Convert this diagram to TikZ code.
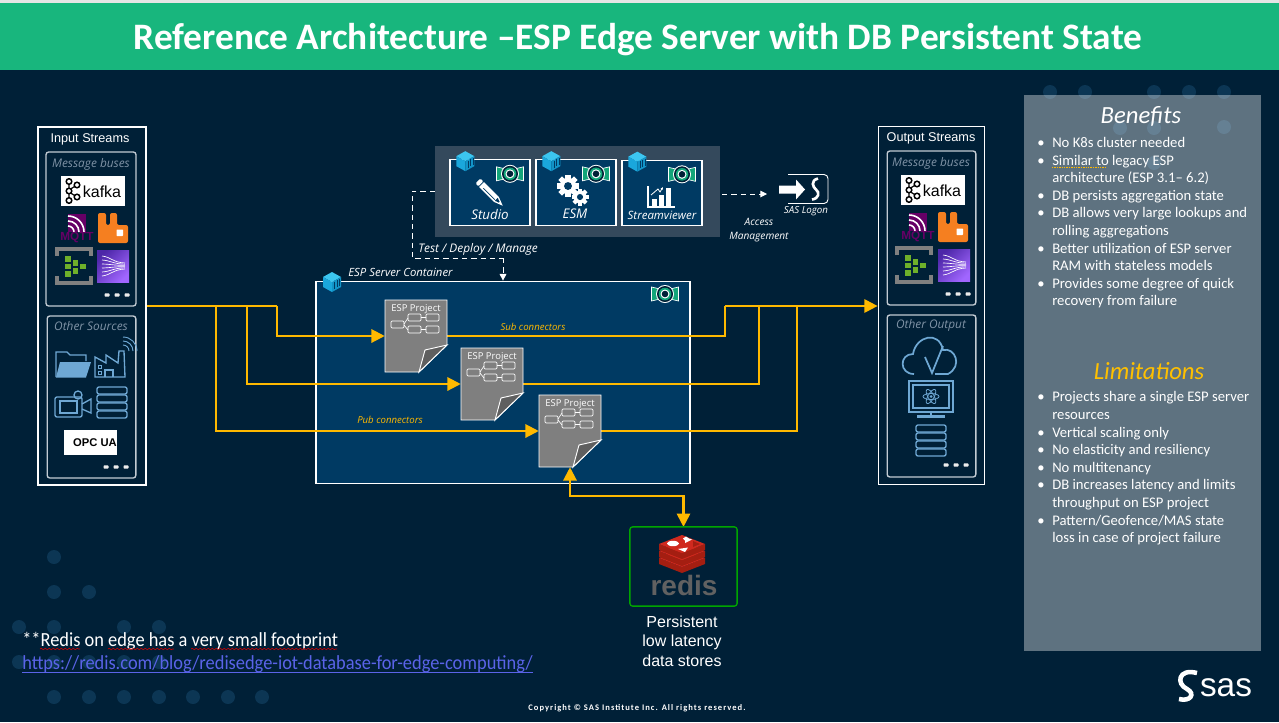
\documentclass[tikz,border=0pt]{standalone}
\usepackage{fontspec}
\setmainfont{Carlito}
\newfontfamily\arialf{Liberation Sans}
\newfontfamily\openf{Open Sans}
\newfontfamily\notef[FakeStretch=0.92]{Carlito}
\newfontfamily\copyf[LetterSpace=12]{Carlito}
\usetikzlibrary{arrows.meta,positioning,decorations.pathmorphing}
\definecolor{pagebg}{HTML}{002037}
\definecolor{dotc}{HTML}{0C3654}
\definecolor{band}{HTML}{18B67D}
\definecolor{navy}{HTML}{003A63}
\definecolor{toolbg}{HTML}{34495C}
\definecolor{flowc}{HTML}{FFB900}
\definecolor{iconb}{HTML}{6FA8D4}
\definecolor{capt}{HTML}{8093A6}
\definecolor{edgec}{HTML}{C3CBD3}
\definecolor{teal}{HTML}{12A579}
\definecolor{mqttc}{HTML}{660066}
\definecolor{linkc}{HTML}{5A63E8}
\definecolor{cubeA}{HTML}{3CC6F0}
\definecolor{cubeB}{HTML}{1AA7DC}
\definecolor{cubeC}{HTML}{1294C8}
\definecolor{kinA}{HTML}{4D27A8}
\definecolor{kinB}{HTML}{A166FF}
\definecolor{hubg}{HTML}{6FB02A}
\definecolor{rabbitc}{HTML}{F57F20}
\definecolor{redisA}{HTML}{D0291E}
\definecolor{redisB}{HTML}{A41E11}
\definecolor{sheetc}{HTML}{7F7F7F}
\definecolor{foldc}{HTML}{5F5F5F}
\newcommand\pt[2]{\fontsize{#1}{#2}\selectfont}
\newcommand\bitem[1]{\makebox[11.25pt][l]{\textbullet}#1}
\newcommand\bcont[1]{\hspace*{11.25pt}#1}
\tikzset{
	txt/.style = {text=white, inner sep=0},
	capfont/.style = {txt, font=\openf\itshape\pt{8.9}{10}, text=capt},
	tagfont/.style = {txt, font=\openf\itshape\pt{8.5}{12}},
	toolfont/.style = {txt, font=\openf\itshape\pt{10}{12}},
	yelfont/.style = {txt, font=\openf\itshape\pt{7.2}{9}, text=flowc},
	outer/.style = {draw=white, line width=.8pt, inner sep=0},
	inner/.style = {draw=edgec, line width=1pt, rounded corners=2pt, inner sep=0},
	toolbox/.style = {draw=white, line width=.8pt, fill=navy, inner sep=0, minimum width=60pt, minimum height=49pt},
	logobox/.style = {fill=white, inner sep=0},
	flow/.style = {draw=flowc, line width=1.6pt},
	flowarrow/.style = {flow, -{Triangle[length=10pt,width=10pt]}},
	flowboth/.style = {flow, {Triangle[length=10pt,width=10pt]}-{Triangle[length=10pt,width=10pt]}},
	dashline/.style = {draw=white, line width=.7pt, dash pattern=on 4pt off 3pt},
	wavy/.style = {draw=red!80!black, line width=.5pt, decorate, decoration={snake, segment length=3pt, amplitude=.5pt}},
	outline/.style = {draw=iconb, line width=1pt},
	cubeicon/.pic = {
		\fill[cubeA] (0,-10) -- (9,-5) -- (0,0) -- (-9,-5) -- cycle;
		\fill[cubeB] (-9,-5) -- (0,0) -- (0,10) -- (-9,5) -- cycle;
		\fill[cubeC] (9,-5) -- (0,0) -- (0,10) -- (9,5) -- cycle;
		\foreach \i in {2.5,5,7.5} \draw[navy, line width=.2pt] (\i,{-\i*.55+1}) -- (\i,{8-\i*.55});
	},
	espicon/.pic = {
		\draw[white, fill=teal, line width=.5pt] (-13.5,-7) -- (-5,-5) -- (-5,5) -- (-13.5,7) -- cycle;
		\draw[white, fill=teal, line width=.5pt] (13.5,-7) -- (5,-5) -- (5,5) -- (13.5,7) -- cycle;
		\fill[white] (0,0) circle (9);
		\fill[pagebg] (0,0) circle (8);
		\fill[teal] (0,0) circle (6.3);
		\fill[white] (0,0) circle (4.5);
		\fill[pagebg] (0,0) circle (3.3);
	},
	pencilicon/.pic = {
		\begin{scope}[rotate=-45]
			\fill[white, rounded corners=.8pt] (-17,-3.5) rectangle (-13,3.5);
			\fill[white] (-12,-3.5) -- (9,-3.5) -- (18,0) -- (9,3.5) -- (-12,3.5) -- cycle;
			\fill[navy] (-8,1) rectangle (8,1.7);
			\fill[navy] (13,-.5) -- (13,.5) -- (9,2) -- (9,-2) -- cycle;
		\end{scope}
	},
	gearicon/.pic = {
		\foreach \a in {0,45,...,315} \fill[white, rotate=\a] (-2.4,5) rectangle (2.4,10);
		\fill[white] (0,0) circle (7.5);
		\fill[navy] (0,0) circle (3.6);
	},
	charticon/.pic = {
		\draw[white, line width=1pt] (-13,-11) -- (-13,10) -- (14,10);
		\fill[white] (-9,2) rectangle (-4.5,8.5);
		\fill[white] (-2,-2) rectangle (2.5,8.5);
		\fill[white] (5,-9) rectangle (10,8.5);
		\draw[white, line width=.6pt, -{Latex[length=2pt,width=2pt]}] (-10,-2) -- (-3,-8) -- (-1,-5) -- (2,-10);
	},
	kafkalogo/.pic = {
		\node[logobox, minimum width=48pt, minimum height=22.5pt] (-box) at (0,0) {};
		\draw[black, line width=.9pt] (-24,-8) -- (-24,8) (-24,-1) -- (-16,-6) (-24,1) -- (-16,6);
		\foreach \p in {(-24,-9.5),(-24,0),(-24,9.5),(-16,-6),(-16,6)} \draw[black, fill=white, line width=1.1pt] \p circle (2.8);
		\node[txt, text=black, font=\arialf\pt{12}{14}] (-name) at (9,1) {kafka};
	},
	mqttlogo/.pic = {
		\fill[mqttc] (-9,-9) rectangle (9,9);
		\foreach \r in {6,11,16} \draw[white, line width=1.2pt] (-9,9-\r) arc (-90:0:\r);
		\node[txt, text=mqttc, font=\arialf\bfseries\pt{8.8}{12}] (-name) at (0,15) {MQTT};
	},
	rabbitlogo/.pic = {
		\fill[rabbitc, rounded corners=1.5pt] (-15,-15) -- (-7,-15) -- (-7,-3) -- (-3,-3) -- (-3,-15) -- (4,-15) -- (4,-3) -- (15,-3) -- (15,15) -- (-15,15) -- cycle;
		\fill[white, rounded corners=.5pt] (3.5,1.5) rectangle (10,8);
	},
	hublogo/.pic = {
		\draw[gray, line width=2.4pt] (-17,-10) -- (-17,-17) -- (17,-17) -- (17,-10);
		\draw[gray, line width=2.4pt] (-17,10) -- (-17,17) -- (17,17) -- (17,10);
		\foreach \p in {(-6,-7),(-6,0.5),(-6,8),(1.5,-3),(1.5,5),(9,0.5)} \fill[hubg] \p +(-2.8,-2.8) rectangle +(2.8,2.8);
	},
	kinesislogo/.pic = {
		\shade[left color=kinA, right color=kinB, shading angle=45] (-16,-16) rectangle (16,16);
		\foreach \d in {-10,-6,-2,2,6,10} \draw[white, line width=.5pt] (-11,\d) .. controls (-2,\d*.9) and (0,\d*.35) .. (12,\d*.3);
	},
	foldericon/.pic = {
		\draw[outline] (-17,13) -- (-17,-12) -- (-6,-12) -- (-3,-9) -- (13,-9) -- (13,-3);
		\fill[iconb] (-13,-2) -- (18,-2) -- (13,13.5) -- (-17,13.5) -- cycle;
	},
	factoryicon/.pic = {
		\draw[outline] (-18,18) -- (-18,-2) -- (-7,4) -- (-7,-4) -- (5,4) -- (6,-8) -- (11,-8) -- (12,18) -- cycle;
		\draw[outline] (-8,18) -- (-8,11) -- (0,11) -- (0,18);
		\draw[iconb, line width=.7pt] (-15,6) rectangle (-12,9) (-15,12) rectangle (-12,15);
		\foreach \r in {6,10,14} \draw[iconb, line width=.7pt] (10,-8-\r) arc (-90:0:\r);
	},
	cameraicon/.pic = {
		\draw[outline, rounded corners=1.5pt] (-18,-7) rectangle (9,13);
		\draw[outline] (-13,-3) rectangle (4,9);
		\draw[outline] (5,-9) circle (4);
		\draw[outline] (9,0) -- (18,-5) -- (18,9) -- (9,5);
	},
	dbicon/.pic = {
		\foreach \d in {-12.5,-4.5,3.5,11.5} \draw[outline, rounded corners=1.5pt] (-15,\d-3.5) rectangle (15,\d+3.5);
	},
	cloudicon/.pic = {
		\draw[iconb, line width=1.3pt] (-17,18) .. controls (-32,18) and (-32,-2) .. (-18,-2) .. controls (-15,-20) and (8,-26) .. (12,-6) .. controls (24,-9) and (32,10) .. (17,18) -- (4,18);
		\draw[iconb, line width=1.3pt] (-6,1) -- (1,17) -- (12,-10);
	},
	monitoricon/.pic = {
		\draw[outline] (-22,-18) rectangle (22,13);
		\draw[outline] (-18,-14) rectangle (18,9);
		\draw[outline] (0,13) -- (0,16);
		\fill[iconb] (-14,16) rectangle (14,18.5);
		\foreach \a in {0,60,120} \draw[iconb, line width=.6pt, rotate around={\a:(0,-2.5)}] (0,-2.5) ellipse (8 and 3);
		\fill[iconb] (0,-2.5) circle (1.5);
	},
	redislogo/.pic = {
		\foreach \d in {14,7,0} {
			\fill[redisB] (-23,9+\d) -- (0,18+\d) -- (23,9+\d) -- (23,15+\d) -- (0,24+\d) -- (-23,15+\d) -- cycle;
			\fill[redisA] (0,\d) -- (23,9+\d) -- (0,18+\d) -- (-23,9+\d) -- cycle;
		}
		\fill[white] (-9,8.5) ellipse (6 and 2.7);
		\fill[white] (-4,14) -- (6,12.5) -- (3,17) -- cycle;
		\fill[white] (1,3.5) -- (4,1.5) -- (7,3.5) -- (10,4.5) -- (7,6) -- (3,8) -- (3,5.5) -- cycle;
		\fill[redisB] (11,6) -- (18,9) -- (11,12) -- cycle;
		\node[txt, text=black!62, font=\arialf\bfseries\pt{21}{22}] (-name) at (2,50) {redis};
	},
	logonicon/.pic = {
		\draw[white, line width=.7pt, rounded corners=3pt] (-18,-15) -- (22,-15) -- (22,14) -- (-18,14);
		\fill[white] (-27,-4) -- (-10,-4) -- (-10,-10) -- (-1,0) -- (-10,10) -- (-10,4) -- (-27,4) -- cycle;
		\draw[white, line width=2pt] (12,-11) .. controls (4,-9) and (7,-2) .. (10,0) .. controls (14,3) and (13,9) .. (6,10);
	},
	dotsrow/.pic = {
		\foreach \d in {-10,0,10} \fill[white!85!gray, rounded corners=.6pt] (\d-2.5,-1.6) rectangle (\d+2.5,1.6);
	},
	projicon/.pic = {
		\draw[white, line width=.7pt, fill=sheetc] (-31,-36) -- (31,-36) -- (31,9) -- (3,36) -- (-31,36) -- cycle;
		\draw[white, line width=.7pt, fill=foldc] (31,9) -- (9,14) -- (3,36) -- cycle;
		\node[txt, font=\openf\pt{7.1}{8}] (-name) at (0,-27) {ESP Project};
		\draw[white, line width=.5pt, rounded corners=.8pt] (-25,-15) rectangle (-12,-8);
		\draw[white, line width=.5pt, rounded corners=.8pt] (-8,-22) rectangle (5,-15);
		\draw[white, line width=.5pt, rounded corners=.8pt] (-8,-10) rectangle (5,-3);
		\draw[white, line width=.5pt, rounded corners=.8pt] (10,-22) rectangle (23,-15);
		\draw[white, line width=.5pt, rounded corners=.8pt] (10,-10) rectangle (23,-3);
		\draw[white, line width=.5pt] (-12,-12) -- (-8,-18) (-12,-11) -- (-8,-6) (5,-18.5) -- (10,-18.5) (5,-6.5) -- (10,-6.5);
	}
}

\begin{document}
\begin{tikzpicture}[x=.75pt, y=-.75pt]
	\useasboundingbox (0,0) rectangle (1279,722);
	\fill[pagebg] (0,0) rectangle (1279,722);
	\fill[black!10] (0,0) rectangle (1279,3);
	\fill[band] (0,3) rectangle (1279,70);
	\node[txt, font=\bfseries\pt{28}{30}] (title) at (638,39.5) {Reference Architecture –ESP Edge Server with DB Persistent State};

	% background dots
	\foreach \p in {(54,557),(54,592),(89,592),(19,627),(54,627),(124,627),(159,627),(19,662),(54,662),(89,662),(124,662),(159,662),(54,697),(89,697),(124,697),(159,697),(193,697),(228,697),(262,697),(1050,92),(1085,92),(1154,92),(1189,92),(1224,92),(1120,128),(1154,128),(1224,127),(1154,163)}
		\fill[dotc] \p circle (7);

	% side panel
	\fill[white, opacity=.37] (1024,95) rectangle (1261,651);
	\node[txt, font=\itshape\pt{18.5}{20}] (benefits) at (1141,116) {Benefits};
	\node[txt, font=\pt{11}{13.2}, align=left, anchor=north west] (benefitlist) at (1037,137) {%
		\bitem{No K8s cluster needed}\\
		\bitem{Similar to legacy ESP}\\
		\bcont{architecture (ESP 3.1– 6.2)}\\
		\bitem{DB persists aggregation state}\\
		\bitem{DB allows very large lookups and}\\
		\bcont{rolling aggregations}\\
		\bitem{Better utilization of ESP server}\\
		\bcont{RAM with stateless models}\\
		\bitem{Provides some degree of quick}\\
		\bcont{recovery from failure}};
	\draw[flowc, line width=.7pt, dash pattern=on 1pt off .8pt] (1052,167) -- (1107,167);
	\node[txt, text=flowc!90!yellow, font=\itshape\pt{18.5}{20}] (limits) at (1149,371) {Limitations};
	\node[txt, font=\pt{11}{13.2}, align=left, anchor=north west] (limitlist) at (1037,391.5) {%
		\bitem{Projects share a single ESP server}\\
		\bcont{resources}\\
		\bitem{Vertical scaling only}\\
		\bitem{No elasticity and resiliency}\\
		\bitem{No multitenancy}\\
		\bitem{DB increases latency and limits}\\
		\bcont{throughput on ESP project}\\
		\bitem{Pattern/Geofence/MAS state}\\
		\bcont{loss in case of project failure}};

	% tools
	\fill[toolbg] (435,146) rectangle (720,237);
	\node[toolbox] (studio) at (490,192.5) {};
	\node[toolbox] (esm) at (576,192.5) {};
	\node[toolbox] (viewer) at (662,193) {};
	\foreach \n in {studio,esm,viewer} {
		\pic at ([xshift=-18.5pt,yshift=23.5pt]\n.center) {cubeicon};
		\pic at ([xshift=15pt,yshift=14pt]\n.center) {espicon};
	}
	\pic at (490,193) {pencilicon};
	\pic[scale=1.1] at (568,186) {gearicon};
	\pic[scale=.85] at (580,197) {gearicon};
	\pic at (661,197) {charticon};
	\node[toolfont] (studiotext) at (490,214) {Studio};
	\node[toolfont] (esmtext) at (575,214) {ESM};
	\node[txt, font=\openf\itshape\pt{8.6}{12}] (viewertext) at (662,215) {Streamviewer};

	% server container
	\node[draw=white, line width=.8pt, fill=navy, inner sep=0, minimum width=280.5pt, minimum height=152pt] (server) at (503,382.5) {};
	\pic at (332,282) {cubeicon};
	\pic at (665,294) {espicon};
	\node[tagfont] (servertext) at (400.5,272) {ESP Server Container};
	\node[minimum width=46.5pt, minimum height=54pt, inner sep=0] (P1) at (416,336) {};
	\node[minimum width=46.5pt, minimum height=54pt, inner sep=0] (P2) at (492,384) {};
	\node[minimum width=46.5pt, minimum height=54pt, inner sep=0] (P3) at (570,431) {};
	\node[minimum width=80pt, minimum height=59pt, inner sep=0] (redisbox) at (683.5,566.5) {};

	% stream boxes
	\node[outer, minimum width=81pt, minimum height=268.5pt] (input) at (92,306) {};
	\node[outer, minimum width=80pt, minimum height=268pt] (output) at (931.5,305.5) {};
	\node[inner, minimum width=67.5pt, minimum height=115.5pt] (inbus) at (91,229) {};
	\node[inner, minimum width=66.5pt, minimum height=121.5pt] (insrc) at (91.5,397) {};
	\node[inner, minimum width=66.5pt, minimum height=115.5pt] (outbus) at (931.5,228) {};
	\node[inner, minimum width=66.5pt, minimum height=121.5pt] (outsrc) at (931.5,396) {};
	\node[txt, font=\arialf\pt{9.5}{10}] (intext) at (90,139.5) {Input Streams};
	\node[txt, font=\arialf\pt{9.5}{10}] (outtext) at (931,138.5) {Output Streams};
	\node[capfont] (inbustext) at (91,164) {Message buses};
	\node[capfont] (insrctext) at (91,326) {Other Sources};
	\node[capfont] (outbustext) at (931,163) {Message buses};
	\node[capfont] (outsrctext) at (931,325) {Other Output};

	% input icons
	\pic (kafkaA) at (93,191) {kafkalogo};
	\pic (mqttA) at (77,223) {mqttlogo};
	\pic at (113,228) {rabbitlogo};
	\pic at (74,266) {hublogo};
	\pic at (113,266) {kinesislogo};
	\pic at (117,295) {dotsrow};
	\pic at (73,364) {foldericon};
	\pic at (113,359) {factoryicon};
	\pic at (73,404) {cameraicon};
	\pic at (112,403) {dbicon};
	\node[logobox, minimum width=40pt, minimum height=18.5pt] (opcbox) at (90.5,442.5) {};
	\node[txt, text=black, font=\arialf\bfseries\pt{8.4}{9}] (opctext) at (95,443) {OPC UA};
	\pic at (116,467) {dotsrow};

	% output icons
	\pic (kafkaB) at (933,190) {kafkalogo};
	\pic (mqttB) at (918,222) {mqttlogo};
	\pic at (953,227) {rabbitlogo};
	\pic at (914,265) {hublogo};
	\pic at (954,265) {kinesislogo};
	\pic at (958,294) {dotsrow};
	\pic at (931,356) {cloudicon};
	\pic at (931,399) {monitoricon};
	\pic at (931,441) {dbicon};
	\pic at (956,465) {dotsrow};

	% connectors
	\coordinate (busin) at (input.east |- 0,306);
	\coordinate (tapA) at (277,306);
	\coordinate (tapB) at (247,306);
	\coordinate (tapC) at (216,306);
	\coordinate (tapD) at (725,306);
	\coordinate (tapE) at (759,306);
	\coordinate (tapF) at (797,306);
	\coordinate (busout) at (output.west |- 0,306);
	\coordinate (dbbend) at (570,496);
	\draw[flow] (busin) -- (tapA);
	\draw[flowarrow] (tapA) |- (P1.west);
	\draw[flowarrow] (tapB) |- (P2.west);
	\draw[flowarrow] (tapC) |- (P3.west);
	\draw[flow] (P1.east) -| (tapD);
	\draw[flow] (P2.east) -| (tapE);
	\draw[flow] (P3.east) -| (tapF);
	\draw[flowarrow] (tapD) -- (busout);
	\draw[flowboth] (P3.south) -- (dbbend) -| (redisbox.north);
	\node[yelfont] (subtext) at (533,327) {Sub connectors};
	\node[yelfont] (pubtext) at (390,420) {Pub connectors};

	% projects
	\foreach \n in {P1,P2,P3} \pic (icon\n) at (\n.center) {projicon};

	% dashed links
	\coordinate (deployA) at (412,191);
	\coordinate (deployB) at (412,258);
	\coordinate (deployC) at (503,258);
	\coordinate (logonend) at (767,194);
	\coordinate (toolend) at (722,194);
	\draw[dashline] (435,191) -- (deployA) -- (deployB) -- (deployC);
	\draw[dashline, -{Triangle[length=5pt,width=5pt]}] (deployC) -- (server.north);
	\draw[dashline, -{Triangle[length=5pt,width=5pt]}] (toolend) -- (logonend);
	\node[txt, font=\openf\itshape\pt{8.9}{12}, anchor=west] (deploytext) at (418,249) {Test / Deploy / Manage};
	\pic at (806,189.5) {logonicon};
	\node[txt, font=\openf\itshape\pt{7.3}{10}] (logontext) at (806,211) {SAS Logon};
	\node[txt, font=\openf\itshape\pt{7.6}{10.5}, align=center] (accesstext) at (759,230) {Access\\Management};

	% redis
	\draw[green!65!black, line width=1pt, rounded corners=2pt] (redisbox.south west) rectangle (redisbox.north east);
	\pic at (682,535) {redislogo};
	\node[txt, font=\arialf\pt{12}{14.5}, align=center] (redistext) at (682,641) {Persistent\\low latency\\ data stores};

	% note
	\node[txt, font=\notef\pt{15}{18}, anchor=west] (note) at (22,641.5) {**Redis on edge has a very small footprint};
	\draw[wavy] (40,649) -- (80,649);
	\draw[wavy] (108,649) -- (174,649);
	\draw[wavy] (191,649) -- (337,649);
	\node[txt, text=linkc, font=\notef\pt{15}{18}, anchor=west] (link) at (22,664) {https://redis.com/blog/redisedge-iot-database-for-edge-computing/};
	\draw[linkc, line width=.6pt] (22,672) -- (533,672);

	% footer
	\node[txt, font=\copyf\bfseries\pt{6.4}{8}] (copyright) at (637,708) {Copyright © SAS Institute Inc. All rights reserved.};
	\draw[white, line width=3.4pt] (1197,673) .. controls (1178,668) and (1176,684) .. (1187,689) .. controls (1196,694) and (1190,702) .. (1179,699);
	\node[txt, font=\arialf\pt{25}{26}] (saslogo) at (1226,688) {sas};
\end{tikzpicture}
\end{document}
